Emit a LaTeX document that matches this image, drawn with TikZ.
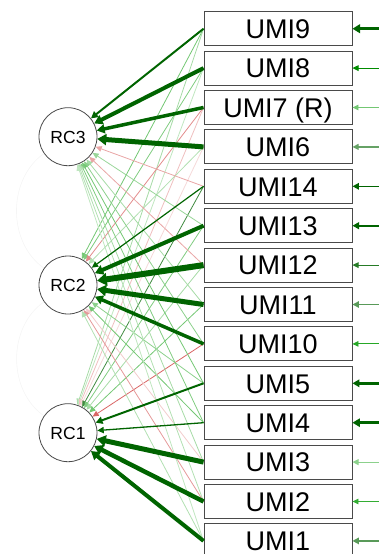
\documentclass[tikz,border=0pt]{standalone}
\usepackage{fontspec}
\setmainfont{Liberation Sans}
\usetikzlibrary{arrows.meta}
\definecolor{dg}{HTML}{006400}
\definecolor{lg}{HTML}{009900}
\definecolor{lr}{HTML}{BF0000}
\definecolor{bx}{HTML}{4A4A4A}
\tikzset{
  item/.style={draw=bx, fill=white, line width=0.9pt, minimum width=148pt, minimum height=34pt,
    inner sep=0pt, text height=19.4pt, text depth=0pt, font=\fontsize{27}{30}\selectfont},
  fac/.style={circle, draw=bx, fill=white, line width=0.8pt, minimum size=58pt, inner sep=0pt,
    text height=12.6pt, text depth=0pt, font=\fontsize{17.5}{20}\selectfont},
  ld/.style={-{Triangle[length=5.5pt 0.7, width=4.5pt 1.3]}},
  res/.style={-{Triangle[length=5.5pt 0.6, width=4.5pt 1.2]}},
  corr/.style={draw=black!4, line width=0.6pt},
}
\newcommand\cl[3]{\draw[ld, line width=0.8pt, draw=#3] (#1.west) -- (#2);}
\newcommand\ml[3]{\draw[ld, line width=#3, draw=dg] (#1.west) -- (#2);}
\newcommand\rs[3]{\draw[res, line width=#2, draw=#3] ([xshift=27pt]#1.east) -- (#1.east);}
\begin{document}
\begin{tikzpicture}[x=1pt,y=-1pt]
\useasboundingbox (0,0) rectangle (378,554);

% factors
\node[fac] (RC3) at (68,136.7) {RC3};
\node[fac] (RC2) at (68,285) {RC2};
\node[fac] (RC1) at (68,432.7) {RC1};

% items
\node[item] (i9)  at (278,28.7)  {UMI9};
\node[item] (i8)  at (278,68.1)  {UMI8};
\node[item] (i7)  at (278,107.5) {UMI7 (R)};
\node[item] (i6)  at (278,146.9) {UMI6};
\node[item] (i14) at (278,186.3) {UMI14};
\node[item] (i13) at (278,225.7) {UMI13};
\node[item] (i12) at (278,265.1) {UMI12};
\node[item] (i11) at (278,304.5) {UMI11};
\node[item] (i10) at (278,343.9) {UMI10};
\node[item] (i5)  at (278,383.3) {UMI5};
\node[item] (i4)  at (278,422.7) {UMI4};
\node[item] (i3)  at (278,462.1) {UMI3};
\node[item] (i2)  at (278,501.5) {UMI2};
\node[item] (i1)  at (278,540.9) {UMI1};

% factor correlations (very faint)
\draw[corr] (RC3) to[out=215,in=145] (RC2);
\draw[corr] (RC2) to[out=215,in=145] (RC1);

% cross loadings
\cl{i9}{RC2}{lg!55}   \cl{i9}{RC1}{lg!35}
\cl{i8}{RC2}{lg!50}   \cl{i8}{RC1}{lg!25}
\cl{i7}{RC2}{lr!45}   \cl{i7}{RC1}{lr!25}
\cl{i6}{RC2}{lg!30}   \cl{i6}{RC1}{lr!15}
\cl{i14}{RC3}{lr!35}  \cl{i14}{RC1}{dg!75}
\cl{i13}{RC3}{lg!40}  \cl{i13}{RC1}{lg!50}
\cl{i12}{RC3}{lr!35}  \cl{i12}{RC1}{lg!35}
\cl{i11}{RC3}{lg!35}  \cl{i11}{RC1}{lg!55}
\cl{i10}{RC3}{lg!45}  \cl{i10}{RC1}{lr!60}
\cl{i5}{RC3}{lg!55}   \cl{i5}{RC2}{lg!45}
\cl{i4}{RC3}{lg!50}   \cl{i4}{RC2}{lg!55}
\cl{i3}{RC3}{lg!35}   \cl{i3}{RC2}{lr!20}
\cl{i2}{RC3}{lg!30}   \cl{i2}{RC2}{lr!40}
\cl{i1}{RC3}{lg!25}   \cl{i1}{RC2}{lg!30}

% main loadings
\ml{i9}{RC3}{2pt}
\ml{i8}{RC3}{4pt}
\ml{i7}{RC3}{3.5pt}
\ml{i6}{RC3}{5pt}
\ml{i14}{RC2}{1.2pt}
\ml{i13}{RC2}{4pt}
\ml{i12}{RC2}{6pt}
\ml{i11}{RC2}{5pt}
\ml{i10}{RC2}{3.5pt}
\ml{i5}{RC1}{2pt}
\ml{i4}{RC1}{1.3pt}
\ml{i3}{RC1}{5pt}
\ml{i2}{RC1}{4.5pt}
\ml{i1}{RC1}{4pt}

% residuals
\rs{i9}{3.5pt}{dg}
\rs{i8}{1pt}{lg!75!dg}
\rs{i7}{0.9pt}{lg!55}
\rs{i6}{1.2pt}{dg!60}
\rs{i14}{1.6pt}{dg}
\rs{i13}{2pt}{dg}
\rs{i12}{1pt}{dg!85}
\rs{i11}{1.5pt}{dg!65}
\rs{i10}{0.9pt}{lg!85}
\rs{i5}{2.5pt}{dg}
\rs{i4}{3pt}{dg}
\rs{i3}{1.2pt}{lg!45}
\rs{i2}{0.9pt}{lg!80}
\rs{i1}{1.6pt}{dg!65}
\end{tikzpicture}
\end{document}
